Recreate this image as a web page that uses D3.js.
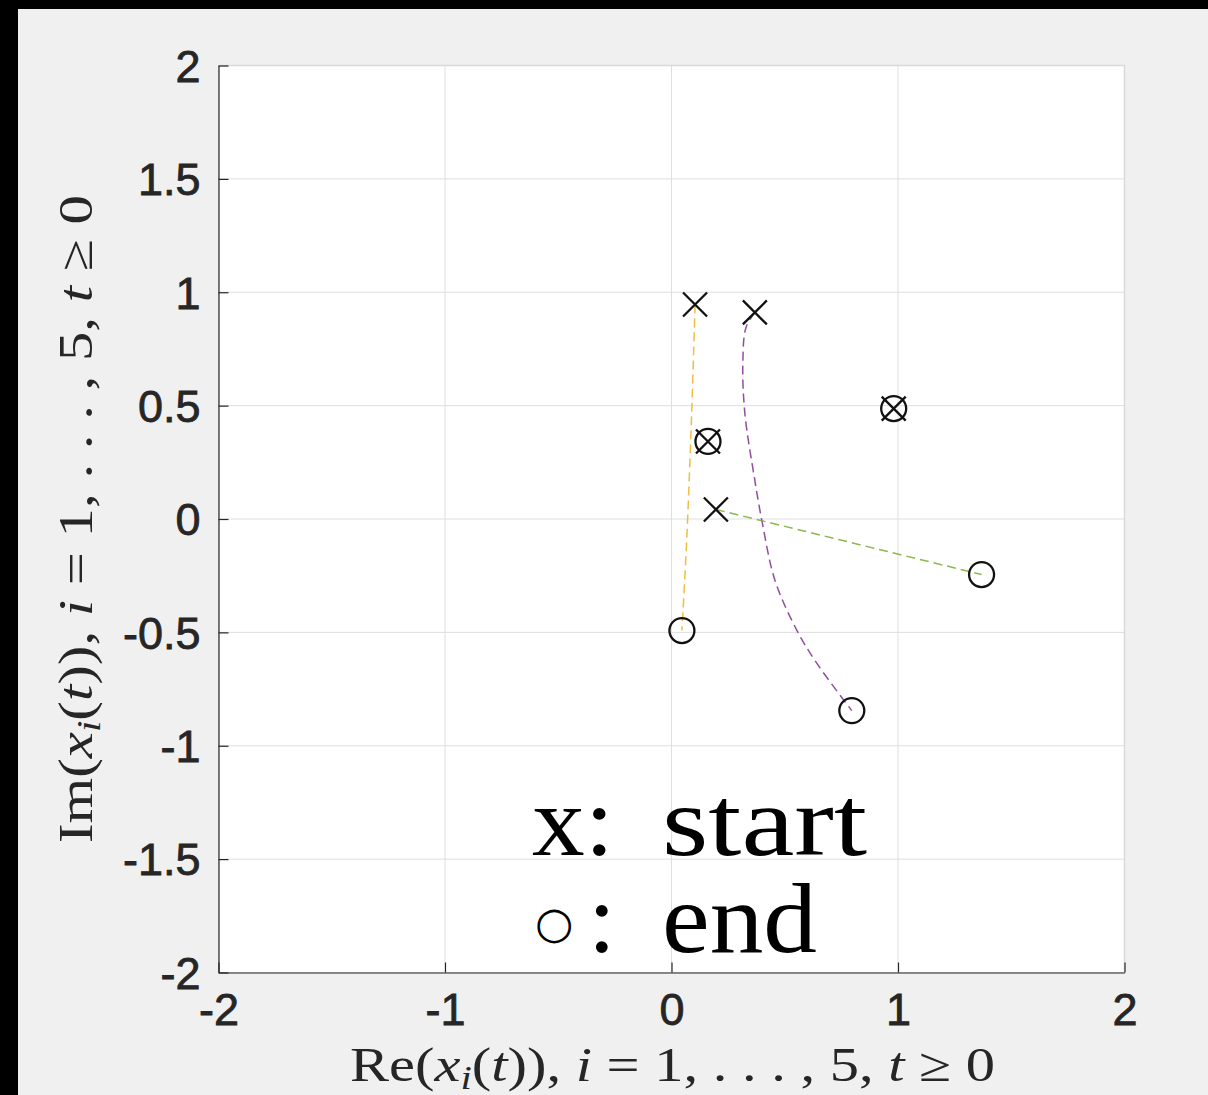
<!DOCTYPE html>
<html>
<head>
<meta charset="utf-8">
<script src="https://cdn.jsdelivr.net/npm/d3@7"></script>
<style>
  html, body { margin: 0; padding: 0; background: #000; }
  svg { display: block; }
</style>
</head>
<body>
<svg id="chart" width="1208" height="1095"></svg>
<script>
// ---- Data ----
const xTicks = [-2, -1, 0, 1, 2];
const yTicks = [-2, -1.5, -1, -0.5, 0, 0.5, 1, 1.5, 2];
const seriesNames = ["x1", "x2", "x3", "x4", "x5"];
const seriesColors = ["#0072BD", "#D95319", "#EDB120", "#7E2F8E", "#77AC30"];
// trajectories [Re, Im]
const traj1 = [[0.161, 0.342], [0.161, 0.342]];
const traj2 = [[0.981, 0.487], [0.981, 0.487]];
const traj3 = [[0.104, 0.946], [0.089, 0.465], [0.067, -0.095], [0.046, -0.492]];
const traj4 = [[0.368, 0.911], [0.329, 0.845], [0.315, 0.686], [0.324, 0.465], [0.368, 0.170],
               [0.399, -0.007], [0.457, -0.271], [0.554, -0.492], [0.642, -0.637], [0.796, -0.845]];
const traj5 = [[0.196, 0.042], [1.369, -0.245]];
const trajectories = [traj1, traj2, traj3, traj4, traj5];

// ---- Layout ----
const svg = d3.select("#chart");
const W = 1208, H = 1095;
svg.append("rect").attr("x", 18).attr("y", 9).attr("width", W - 18).attr("height", H - 9).attr("fill", "#f0f0f0");

const x = d3.scaleLinear().domain([-2, 2]).range([218.5, 1124.5]);
const y = d3.scaleLinear().domain([-2, 2]).range([972.5, 65.5]);

// plot background
svg.append("rect").attr("x", x(-2)).attr("y", y(2)).attr("width", x(2) - x(-2)).attr("height", y(-2) - y(2)).attr("fill", "#fff");

// grid
const grid = svg.append("g").attr("stroke", "#dfdfdf").attr("stroke-width", 1);
grid.selectAll("line.v").data(xTicks).join("line").attr("class", "v")
  .attr("x1", d => x(d)).attr("x2", d => x(d)).attr("y1", y(2)).attr("y2", y(-2));
grid.selectAll("line.h").data(yTicks).join("line").attr("class", "h")
  .attr("x1", x(-2)).attr("x2", x(2)).attr("y1", d => y(d)).attr("y2", d => y(d));
// top/right box (light)
svg.append("path").attr("d", `M${x(-2)},${y(2)}H${x(2)}V${y(-2)}`).attr("fill", "none").attr("stroke", "#d9d9d9").attr("stroke-width", 1.5);

// axes
const fmt = d => String(d);
const yAxis = svg.append("g").attr("transform", `translate(${x(-2)},0)`)
  .call(d3.axisLeft(y).tickValues(yTicks).tickFormat(fmt).tickSizeInner(-10).tickSizeOuter(0).tickPadding(18));
const xAxis = svg.append("g").attr("transform", `translate(0,${y(-2)})`)
  .call(d3.axisBottom(x).tickValues(xTicks).tickFormat(fmt).tickSizeInner(-10).tickSizeOuter(0).tickPadding(21));
[xAxis, yAxis].forEach(g => {
  g.select(".domain").attr("stroke", "#262626").attr("stroke-width", 1.2);
  g.selectAll(".tick line").attr("stroke", "#262626").attr("stroke-width", 1.2);
  g.selectAll(".tick text").attr("fill", "#262626").attr("stroke", "#262626").attr("stroke-width", 0.8)
    .attr("font-family", "'Liberation Sans', Arial, Helvetica, sans-serif").attr("font-size", 45);
});
yAxis.selectAll(".tick text").attr("dy", "0.35em");

// trajectories
const line = d3.line().x(d => x(d[0])).y(d => y(d[1])).curve(d3.curveCatmullRom.alpha(0.5));
const gLines = svg.append("g");
trajectories.forEach((t, i) => {
  gLines.append("path").datum(t).attr("d", line)
    .attr("fill", "none").attr("stroke", seriesColors[i]).attr("stroke-width", 1.5).attr("stroke-opacity", 0.85)
    .attr("stroke-dasharray", "9,5");
});

// markers
const gM = svg.append("g").attr("stroke", "#111").attr("stroke-width", 2.3).attr("fill", "none");
const s = 12;
trajectories.forEach((t, i) => {
  const p0 = t[0], p1 = t[t.length - 1];
  gM.append("path").attr("d", `M${x(p0[0]) - s},${y(p0[1]) - s}L${x(p0[0]) + s},${y(p0[1]) + s}M${x(p0[0]) - s},${y(p0[1]) + s}L${x(p0[0]) + s},${y(p0[1]) - s}`);
  gM.append("circle").attr("cx", x(p1[0])).attr("cy", y(p1[1])).attr("r", 12.5);
});

// in-plot annotation
const serif = "'Liberation Serif', 'Times New Roman', 'DejaVu Serif', serif";
const ann = svg.append("g").attr("font-family", serif).attr("fill", "#000");
ann.append("text").attr("x", 532).attr("y", 855).attr("font-size", 100).attr("textLength", 82).attr("lengthAdjust", "spacingAndGlyphs").text("x:");
ann.append("text").attr("x", 662).attr("y", 855).attr("font-size", 100).attr("textLength", 205).attr("lengthAdjust", "spacingAndGlyphs").text("start");
ann.append("text").attr("x", 535).attr("y", 938).attr("font-size", 44).attr("font-family", "'DejaVu Sans', sans-serif").text("○");
ann.append("text").attr("x", 588).attr("y", 952).attr("font-size", 100).text(":");
ann.append("text").attr("x", 662).attr("y", 952).attr("font-size", 100).attr("textLength", 155).attr("lengthAdjust", "spacingAndGlyphs").text("end");

// axis labels
function mathLabel(sel, prefix) {
  sel.append("tspan").text(prefix + "(");
  sel.append("tspan").attr("font-style", "italic").text("x");
  sel.append("tspan").attr("font-style", "italic").attr("font-size", "0.7em").attr("dy", "0.25em").text("i");
  sel.append("tspan").attr("dy", "-0.175em").text("(");
  sel.append("tspan").attr("font-style", "italic").text("t");
  sel.append("tspan").text(")), ");
  sel.append("tspan").attr("font-style", "italic").text("i");
  sel.append("tspan").text(" = 1, . . . , 5, ");
  sel.append("tspan").attr("font-style", "italic").text("t");
  sel.append("tspan").text(" ≥ 0");
}
const xl = svg.append("text").attr("x", 350).attr("y", 1081).attr("font-family", serif).attr("font-size", 48).attr("fill", "#262626")
  .attr("textLength", 645).attr("lengthAdjust", "spacingAndGlyphs");
mathLabel(xl, "Re");
const yl = svg.append("text").attr("transform", "translate(92,843) rotate(-90)").attr("font-family", serif).attr("font-size", 48).attr("fill", "#262626")
  .attr("textLength", 648).attr("lengthAdjust", "spacingAndGlyphs");
mathLabel(yl, "Im");
</script>
</body>
</html>
